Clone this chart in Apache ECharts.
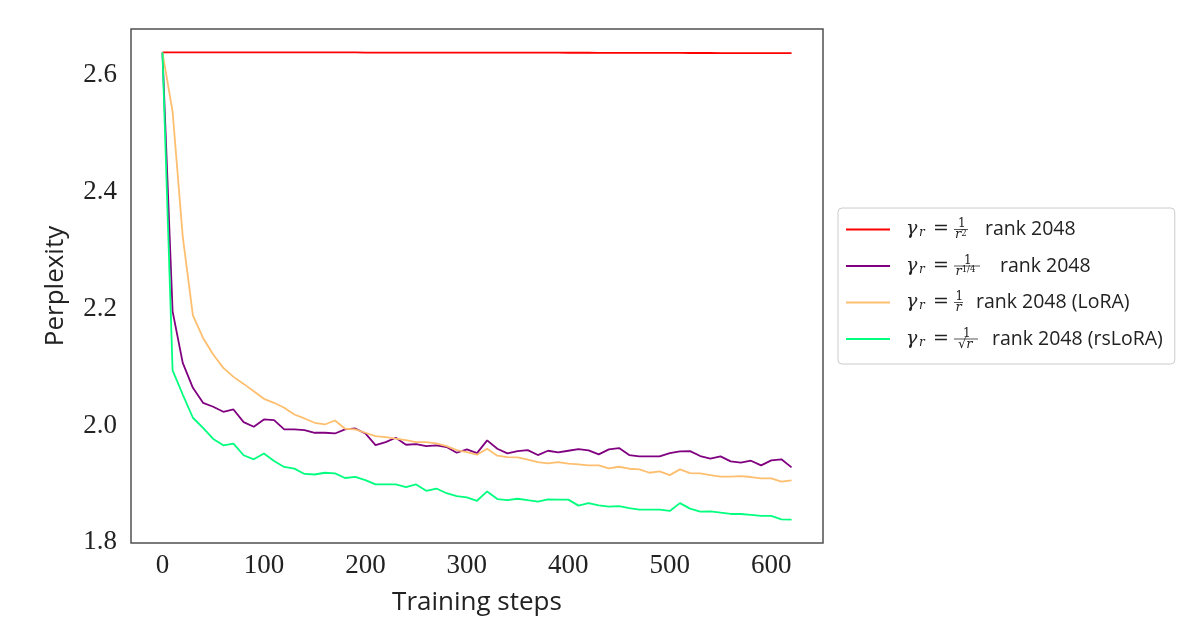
<!DOCTYPE html>
<html><head><meta charset="utf-8">
<script src="https://cdn.jsdelivr.net/npm/echarts@6/dist/echarts.min.js"></script>
<style>html,body{margin:0;padding:0;background:#fff}#c{width:1200px;height:643px}</style>
</head><body><div id="c"></div>
<script>
const steps = [0,10,20,30,40,50,60,70,80,90,100,110,120,130,140,150,160,170,180,190,200,210,220,230,240,250,260,270,280,290,300,310,320,330,340,350,360,370,380,390,400,410,420,430,440,450,460,470,480,490,500,510,520,530,540,550,560,570,580,590,600,610,620];

const redVals = [2.6390,2.6390,2.6390,2.6390,2.6390,2.6390,2.6389,2.6389,2.6389,2.6389,
2.6389,2.6389,2.6389,2.6389,2.6388,2.6388,2.6388,2.6388,2.6388,2.6388,
2.6387,2.6387,2.6387,2.6387,2.6387,2.6387,2.6386,2.6386,2.6386,2.6386,
2.6386,2.6385,2.6385,2.6385,2.6385,2.6385,2.6384,2.6384,2.6384,2.6384,
2.6383,2.6383,2.6383,2.6382,2.6382,2.6382,2.6381,2.6381,2.6381,2.6380,
2.6380,2.6380,2.6379,2.6379,2.6379,2.6378,2.6378,2.6378,2.6377,2.6377,
2.6377,2.6376,2.6376];

const purpleVals = [2.639,2.1954,2.1071,2.0644,2.0388,2.032,2.0234,2.0274,2.0057,1.9978,
2.0103,2.009,1.9932,1.9932,1.992,1.9875,1.9875,1.9863,1.9932,1.9949,
1.9863,1.9664,1.9715,1.979,1.967,1.968,1.9646,1.966,1.963,1.9533,
1.959,1.9527,1.9744,1.9601,1.9521,1.956,1.9578,1.9493,1.9567,1.9538,
1.9567,1.9595,1.9573,1.9504,1.959,1.9613,1.9493,1.947,1.947,1.947,
1.9527,1.9556,1.956,1.9476,1.943,1.947,1.9385,1.9362,1.9396,1.9316,
1.9402,1.942,1.9282];

const loraVals = [2.639,2.5373,2.3236,2.1886,2.1499,2.1214,2.0986,2.0832,2.0712,2.0587,
2.0456,2.0388,2.0303,2.0188,2.012,2.0046,2.0017,2.0085,1.9944,1.9932,
1.9875,1.9818,1.98,1.9773,1.9749,1.9715,1.9715,1.9692,1.9646,1.9578,
1.9544,1.950,1.9601,1.9482,1.9458,1.9452,1.9413,1.9373,1.935,1.9373,
1.9345,1.9333,1.9316,1.9316,1.9265,1.9293,1.9259,1.9248,1.919,1.9214,
1.915,1.9248,1.9185,1.918,1.915,1.9123,1.9123,1.9134,1.9117,1.9094,
1.9094,1.9037,1.906];

const rsloraVals = [2.639,2.0945,2.053,2.0132,1.996,1.977,1.966,1.969,1.949,1.942,
1.952,1.939,1.929,1.926,1.917,1.916,1.919,1.918,1.910,1.912,
1.9065,1.899,1.899,1.899,1.8946,1.899,1.888,1.892,1.884,1.879,
1.877,1.871,1.887,1.874,1.872,1.8745,1.872,1.8696,1.8733,1.873,
1.873,1.8627,1.867,1.863,1.861,1.862,1.8586,1.8558,1.8558,1.8558,
1.8536,1.867,1.8576,1.8525,1.853,1.8507,1.8484,1.8484,1.8467,1.845,
1.845,1.8393,1.8387];

const xTicks = [0,100,200,300,400,500,600];
const yTicks = [1.8,2.0,2.2,2.4,2.6];

const seriesNames = ['γr = 1/r² rank 2048','γr = 1/r^(1/4) rank 2048','γr = 1/r rank 2048 (LoRA)','γr = 1/√r rank 2048 (rsLoRA)'];
const seriesColors = ['#ff0000','#800080','#fdbf6f','#00ff7f'];
const denominators = ['{dr|r}{ds|2}','{dr|r}{ds|1/4}','{dr|r}','{dsq|√}{dr|r}'];
const rankTexts = ['rank 2048','rank 2048','rank 2048 (LoRA)','rank 2048 (rsLoRA)'];
const allVals = [redVals, purpleVals, loraVals, rsloraVals];

// legend layout (styles only)
const fracW = [14, 26, 9, 24];
const numPad = [4, 10, 1.5, 9];
const denPad = [1, 1.5, 1.5, 4];
const gapW = [17, 20, 13, 14];
const LEAD = 11, PRE = 48;
const serif = 'DejaVu Serif';
const txtCol = '#222';

const rich = {
  ld: {width: LEAD, lineHeight: 5},
  g: {fontFamily: serif, fontStyle: 'italic', fontSize: 19, width: 13, lineHeight: 5, color: txtCol},
  s: {fontFamily: serif, fontStyle: 'italic', fontSize: 12, width: 8, lineHeight: 5, verticalAlign: 'top', color: txtCol},
  eq: {fontFamily: serif, fontSize: 19, width: 27, lineHeight: 5, color: txtCol},
  rk: {fontFamily: 'Open Sans', fontSize: 19.5, lineHeight: 5, color: txtCol},
  num: {fontFamily: serif, fontSize: 12, lineHeight: 6, color: txtCol},
  dr: {fontFamily: serif, fontStyle: 'italic', fontSize: 13, lineHeight: 6, color: txtCol},
  ds: {fontFamily: serif, fontSize: 8.5, lineHeight: 6, verticalAlign: 'bottom', color: txtCol},
  dsq: {fontFamily: serif, fontSize: 13, lineHeight: 6, color: txtCol}
};
for (let i = 0; i < 4; i++) {
  rich['n' + i] = {width: LEAD + PRE + numPad[i], lineHeight: 6};
  rich['d' + i] = {width: LEAD + PRE + denPad[i], lineHeight: 6};
  rich['b' + i] = {width: fracW[i], height: 1, lineHeight: 5, fontSize: 1, backgroundColor: '#555'};
  rich['gp' + i] = {width: gapW[i], lineHeight: 5};
}

function legendLabel(name) {
  const i = seriesNames.indexOf(name);
  return '{n' + i + '| }{num|1}\n' +
    '{ld| }{g|γ}{s|r}{eq| =}{b' + i + '| }{gp' + i + '| }{rk|' + rankTexts[i] + '}\n' +
    '{d' + i + '| }' + denominators[i];
}

const chart = echarts.init(document.getElementById('c'));
chart.setOption({
  animation: false,
  backgroundColor: '#fff',
  grid: {left: 131, right: 377, top: 29, bottom: 100, show: true, borderColor: '#505050', borderWidth: 1.5, backgroundColor: 'transparent'},
  xAxis: {
    type: 'value', min: -31, max: 651,
    name: 'Training steps', nameLocation: 'middle', nameGap: 47,
    nameTextStyle: {fontFamily: 'Open Sans', fontSize: 26, color: txtCol},
    axisLine: {show: false}, axisTick: {show: false}, splitLine: {show: false},
    axisLabel: {customValues: xTicks, margin: 9, fontFamily: 'Liberation Serif', fontSize: 27, color: txtCol}
  },
  yAxis: {
    type: 'value', min: 1.7987, max: 2.679,
    name: 'Perplexity', nameLocation: 'middle', nameGap: 62,
    nameTextStyle: {fontFamily: 'Open Sans', fontSize: 26, color: txtCol},
    axisLine: {show: false}, axisTick: {show: false}, splitLine: {show: false},
    axisLabel: {customValues: yTicks, margin: 14, fontFamily: 'Liberation Serif', fontSize: 27, color: txtCol,
      formatter: v => Number(v).toFixed(1)}
  },
  legend: {
    orient: 'vertical', left: 838, top: 208,
    padding: [10, 12, 13, 8], itemGap: 13, itemWidth: 44, itemHeight: 2,
    icon: 'rect',
    borderColor: '#cccccc', borderWidth: 1, borderRadius: 4, backgroundColor: '#fff',
    data: seriesNames,
    formatter: legendLabel,
    textStyle: {rich: rich}
  },
  series: seriesNames.map((n, i) => ({
    name: n, type: 'line', symbol: 'none', showSymbol: false,
    data: steps.map((s, j) => [s, allVals[i][j]]),
    lineStyle: {color: seriesColors[i], width: 1.8},
    itemStyle: {color: seriesColors[i]},
    z: 2 + i
  }))
});
</script></body></html>
